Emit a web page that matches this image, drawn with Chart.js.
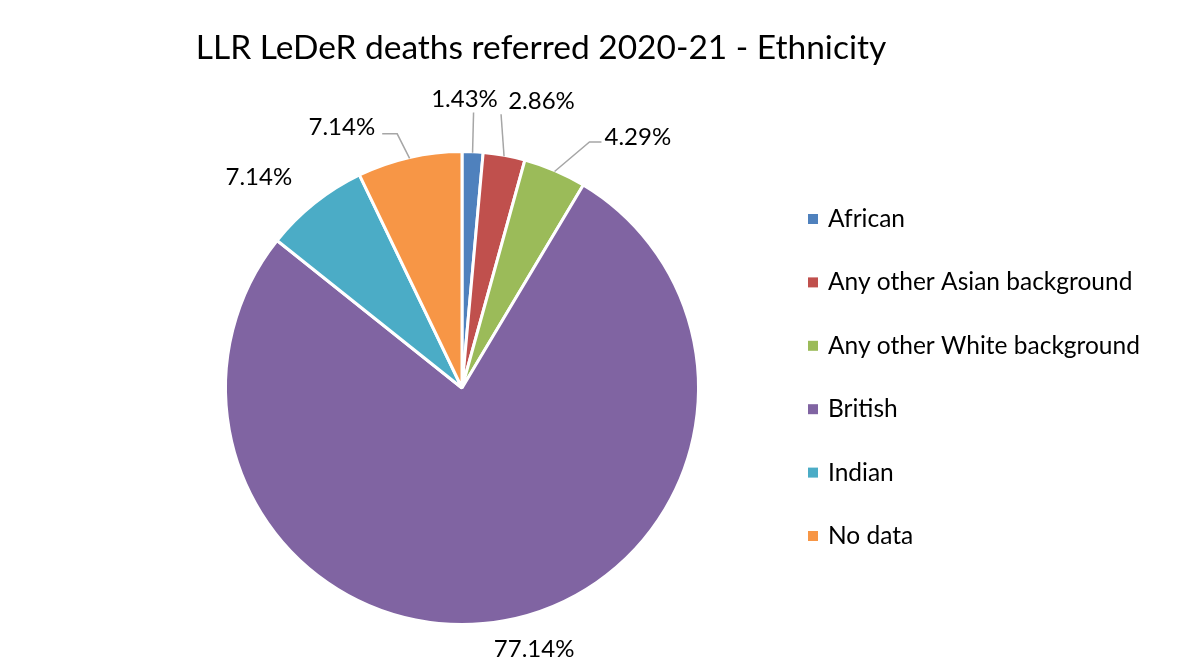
<!DOCTYPE html>
<html>
<head>
  <title>LLR LeDeR deaths referred 2020-21 - Ethnicity</title>
  <script src="https://cdn.jsdelivr.net/npm/chart.js"></script>
  <style>
    html, body { margin: 0; padding: 0; background: #fff; }
  </style>
</head>
<body>
  <canvas id="ethnicityChart" width="1194" height="664"></canvas>

  <script>
    // chart data
    const titleText = 'LLR LeDeR deaths referred 2020-21 - Ethnicity';
    const categories = ['African', 'Any other Asian background', 'Any other White background', 'British', 'Indian', 'No data'];
    const deaths = [1, 2, 3, 54, 5, 5];
    const colours = ['#4F81BD', '#C0504D', '#9BBB59', '#8064A2', '#4BACC6', '#F79646'];

    // where each percentage label sits: [angle in degrees clockwise from top, px beyond the rim], leader style
    const labelPlace = [[0.5, 52], [15.5, 61], [35, 70], [164.6, 35], [316, 56], [335.3, 51]];
    const leaderStyle = ['up', 'up', 'right', 'none', 'none', 'left'];

    const FONT = 'Lato, "Open Sans", sans-serif';
    const total = deaths.reduce((a, b) => a + b, 0);

    const extrasPlugin = {
      id: 'extras',
      afterDraw(chart) {
        const ctx = chart.ctx;
        ctx.save();

        // title
        ctx.fillStyle = '#000';
        ctx.font = '33.5px ' + FONT;
        ctx.textAlign = 'center';
        ctx.textBaseline = 'middle';
        ctx.fillText(titleText, 541, 48);

        // percentage labels + leader lines
        const meta = chart.getDatasetMeta(0);
        ctx.font = '24px ' + FONT;
        meta.data.forEach((arc, i) => {
          const text = (deaths[i] / total * 100).toFixed(2) + '%';
          const r = arc.outerRadius;
          const [ang, extra] = labelPlace[i];
          const a = (ang - 90) * Math.PI / 180;
          const lx = arc.x + Math.cos(a) * (r + extra);
          const ly = arc.y + Math.sin(a) * (r + extra);
          ctx.fillStyle = '#000';
          ctx.fillText(text, lx, ly);

          const mid = (arc.startAngle + arc.endAngle) / 2;
          const ex = arc.x + Math.cos(mid) * (r - 1);
          const ey = arc.y + Math.sin(mid) * (r - 1);
          const w = ctx.measureText(text).width;
          ctx.strokeStyle = '#A6A6A6';
          ctx.lineWidth = 1.5;
          ctx.beginPath();
          if (leaderStyle[i] === 'up') {
            ctx.moveTo(ex, ey);
            ctx.lineTo(ex - (i === 1 ? 3 : -1), ly + 13);
          } else if (leaderStyle[i] === 'right') {
            const left = lx - w / 2;
            ctx.moveTo(ex, ey);
            ctx.lineTo(left - 15, ly + 5);
            ctx.lineTo(left - 3, ly + 5);
          } else if (leaderStyle[i] === 'left') {
            const right = lx + w / 2;
            ctx.moveTo(ex, ey);
            ctx.lineTo(right + 22, ly + 7);
            ctx.lineTo(right + 7, ly + 7);
          }
          ctx.stroke();
        });

        // legend
        ctx.font = '24.5px ' + FONT;
        ctx.textAlign = 'left';
        categories.forEach((name, i) => {
          const y = 219 + i * 63.4;
          ctx.fillStyle = colours[i];
          ctx.fillRect(808, y - 5, 10, 10);
          ctx.fillStyle = '#000';
          ctx.fillText(name, 828, y);
        });

        ctx.restore();
      }
    };

    const ctx = document.getElementById('ethnicityChart').getContext('2d');
    new Chart(ctx, {
      type: 'pie',
      data: {
        labels: categories,
        datasets: [{
          data: deaths,
          backgroundColor: colours,
          borderColor: '#fff',
          borderWidth: 3
        }]
      },
      options: {
        responsive: false,
        animation: false,
        events: [],
        layout: {
          padding: { top: 150, bottom: 38, left: 224, right: 494 }
        },
        plugins: {
          legend: { display: false },
          title: { display: false },
          tooltip: { enabled: false }
        }
      },
      plugins: [extrasPlugin]
    });
  </script>
</body>
</html>
